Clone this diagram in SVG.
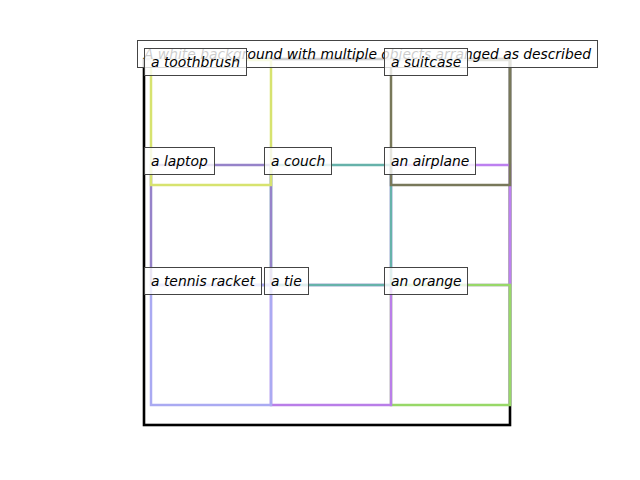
<svg xmlns="http://www.w3.org/2000/svg" width="640" height="480" viewBox="0 0 640 480">
  <style>
    .box { fill: none; stroke-width: 2.5; stroke-linejoin: miter; }
    .lbl rect { fill: #ffffff; fill-opacity: 0.8; stroke: #444444; stroke-width: 1; }
    .lbl text, .title text { font-family: "DejaVu Sans", sans-serif; font-style: oblique; font-size: 13.9px; fill: #000000; }
    .title rect { fill: #ffffff; fill-opacity: 0.8; stroke: #444444; stroke-width: 1; }
  </style>
  <rect width="640" height="480" fill="#ffffff"/>
  <rect id="frame" x="144" y="59" width="366" height="366" fill="none" stroke="#000000" stroke-width="2.6"/>
  <g id="airplane"><rect class="box" x="391" y="165" width="119" height="120" stroke="#bd80f0"/></g>
  <g id="orange"><rect class="box" x="391" y="285" width="119" height="120" stroke="#98d868"/></g>
  <g id="tie"><rect class="box" x="271" y="285" width="120" height="120" stroke="#b97ee8"/></g>
  <g id="couch"><rect class="box" x="271" y="165" width="120" height="120" stroke="#66b2aa"/></g>
  <g id="laptop"><rect class="box" x="151" y="165" width="120" height="120" stroke="#9683c9"/></g>
  <g id="tennis-racket"><rect class="box" x="151" y="285" width="120" height="120" stroke="#aaaaf2"/></g>
  <g id="toothbrush"><rect class="box" x="151" y="60" width="120" height="125" stroke="#d7e36f"/></g>
  <g id="suitcase"><rect class="box" x="391" y="60" width="119" height="125" stroke="#78785a"/></g>
  <g id="connectors"/>
  <g class="title" id="title">
    <rect x="137.5" y="40.5" width="460" height="27"/>
    <text x="144" y="59" textLength="447" lengthAdjust="spacingAndGlyphs">A white background with multiple objects arranged as described</text>
  </g>
  <g class="lbl" id="label-toothbrush"><rect x="144.5" y="48.5" width="102" height="27"/><text x="151" y="67">a toothbrush</text></g>
  <g class="lbl" id="label-suitcase"><rect x="384.5" y="48.5" width="83" height="27"/><text x="391" y="67">a suitcase</text></g>
  <g class="lbl" id="label-laptop"><rect x="144.5" y="147.5" width="70" height="27"/><text x="151" y="166">a laptop</text></g>
  <g class="lbl" id="label-couch"><rect x="264.5" y="147.5" width="67" height="27"/><text x="271" y="166">a couch</text></g>
  <g class="lbl" id="label-airplane"><rect x="384.5" y="147.5" width="91" height="27"/><text x="391" y="166">an airplane</text></g>
  <g class="lbl" id="label-tennis-racket"><rect x="144.5" y="267.5" width="117" height="27"/><text x="151" y="286">a tennis racket</text></g>
  <g class="lbl" id="label-tie"><rect x="264.5" y="267.5" width="44" height="27"/><text x="271" y="286">a tie</text></g>
  <g class="lbl" id="label-orange"><rect x="384.5" y="267.5" width="83" height="27"/><text x="391" y="286">an orange</text></g>
</svg>
